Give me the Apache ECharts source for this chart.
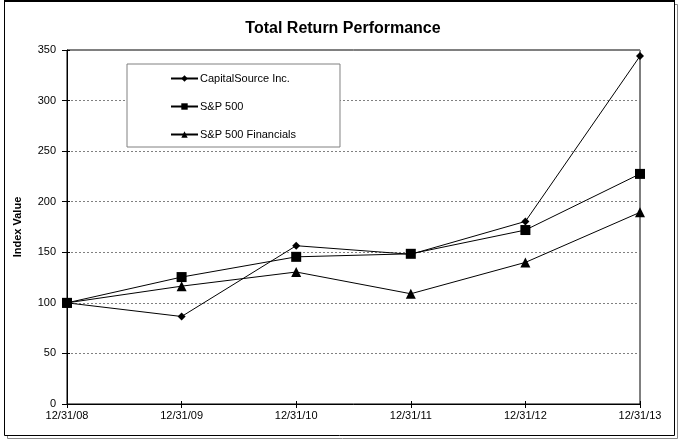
<!DOCTYPE html>
<html><head><meta charset="utf-8">
<script src="https://cdn.jsdelivr.net/npm/echarts@6/dist/echarts.min.js"></script>
<style>html,body{margin:0;padding:0;background:#fff}#c{width:686px;height:446px}</style>
</head><body><div id="c"></div>
<script>
var categories = ['12/31/08','12/31/09','12/31/10','12/31/11','12/31/12','12/31/13'];
var capitalSource = [100, 86.5, 156.5, 148, 180.5, 344];
var sp500 = [100, 125.5, 145.5, 148.5, 172, 227.5];
var spFinancials = [100, 116.5, 130.5, 109, 140, 189.5];
var yTicks = [0, 50, 100, 150, 200, 250, 300, 350];

var FONT = '"Liberation Sans", Arial, sans-serif';
var chart = echarts.init(document.getElementById('c'));
function mk(name, data, symbol, size) {
  return {
    name: name, type: 'line', data: data, symbol: symbol, symbolSize: size,
    showAllSymbol: true,
    lineStyle: {color: '#000', width: 1},
    itemStyle: {color: '#000'},
    emphasis: {disabled: true},
    animation: false, z: 3
  };
}
chart.setOption({
  animation: false,
  backgroundColor: '#fff',
  graphic: [
    {type: 'rect', z: -10, shape: {x: 7.5, y: 4.5, width: 670, height: 434}, style: {fill: 'none', stroke: '#888', lineWidth: 1}},
    {type: 'rect', z: -9, shape: {x: 4.5, y: 1.5, width: 670, height: 434}, style: {fill: '#fff', stroke: '#000', lineWidth: 1}},
    {type: 'line', z: -8, shape: {x1: 4, y1: 1, x2: 675, y2: 1}, style: {stroke: '#000', lineWidth: 2}}
  ],
  title: {
    text: 'Total Return Performance', left: 'center', top: 16,
    textStyle: {fontFamily: FONT, fontSize: 16, fontWeight: 'bold', color: '#000'}
  },
  legend: {
    orient: 'vertical', left: 127, top: 64,
    padding: [9, 44, 7, 43],
    itemWidth: 27, itemHeight: 8, itemGap: 17,
    borderColor: '#808080', borderWidth: 1, backgroundColor: '#fff',
    textStyle: {fontFamily: FONT, fontSize: 11, color: '#000', padding: [0, 0, 0, -3]},
    data: ['CapitalSource Inc.', 'S&P 500', 'S&P 500 Financials']
  },
  grid: {left: 67, right: 46, top: 50, bottom: 42, show: true, borderColor: '#000', borderWidth: 1, containLabel: false},
  xAxis: [{
    type: 'category', data: categories, boundaryGap: false,
    axisLine: {lineStyle: {color: '#000', width: 1}},
    axisTick: {show: true, length: 4, lineStyle: {color: '#000'}, alignWithLabel: true},
    axisLabel: {fontFamily: FONT, fontSize: 11, color: '#000', margin: 6, interval: 0},
    splitLine: {show: false}
  }, {
    type: 'category', data: categories, boundaryGap: false, position: 'bottom',
    axisLine: {show: false},
    axisTick: {show: true, inside: true, length: 3, lineStyle: {color: '#000'}},
    axisLabel: {show: false}, splitLine: {show: false}
  }],
  yAxis: [{
    type: 'value', min: yTicks[0], max: yTicks[yTicks.length - 1], interval: 50,
    name: 'Index Value', nameLocation: 'middle', nameGap: 44,
    nameTextStyle: {fontFamily: FONT, fontSize: 11, fontWeight: 'bold', color: '#000'},
    axisLine: {show: true, lineStyle: {color: '#000', width: 1}},
    axisTick: {show: true, length: 5, lineStyle: {color: '#000'}},
    axisLabel: {fontFamily: FONT, fontSize: 11, color: '#000', margin: 11},
    splitLine: {show: true, lineStyle: {color: '#808080', type: [2, 2], width: 1}}
  }, {
    type: 'value', min: yTicks[0], max: yTicks[yTicks.length - 1], interval: 50, position: 'left',
    axisLine: {show: false},
    axisTick: {show: true, inside: true, length: 3, lineStyle: {color: '#000'}},
    axisLabel: {show: false}, splitLine: {show: false}
  }],
  series: [
    mk('CapitalSource Inc.', capitalSource, 'diamond', 8),
    mk('S&P 500', sp500, 'rect', 10),
    mk('S&P 500 Financials', spFinancials, 'triangle', 10)
  ]
});
</script></body></html>
